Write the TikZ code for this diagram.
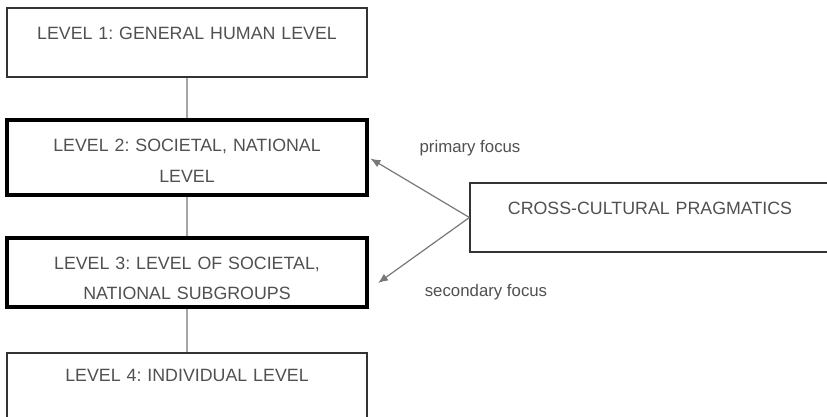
\documentclass[tikz,border=0pt]{standalone}
\usepackage{fontspec}
\setmainfont{Liberation Sans}
\usetikzlibrary{positioning, arrows.meta}
\frenchspacing

\definecolor{textgray}{RGB}{80,80,80}
\definecolor{linegray}{RGB}{165,165,165}
\definecolor{arrowgray}{RGB}{120,120,120}

\begin{document}
\begin{tikzpicture}
[
    x=1pt, y=1pt, node distance=115pt and 463pt, on grid,
    level_box/.style={rectangle, draw=black!80, line width=1.2pt, text=textgray, minimum width=360pt, text width=350pt, align=center, inner ysep=0pt, font=\fontsize{17.8}{30}\selectfont, text height=32pt, text depth=37pt},
    focus_box/.style={level_box, draw=black, line width=3.5pt, text depth=43pt},
    focus_label/.style={text=textgray, font=\fontsize{16.8}{20}\selectfont},
]
    \useasboundingbox (0,0) rectangle (827,-417) ;
    \node[level_box] (lvl1) at (187,-42.5) {LEVEL 1: GENERAL HUMAN LEVEL} ;
    \node[focus_box] (lvl2) [below = of lvl1] {LEVEL 2: SOCIETAL, NATIONAL\\LEVEL} ;
    \node[focus_box, text height=31pt, text depth=38pt] (lvl3) [below = of lvl2] {LEVEL 3: LEVEL OF SOCIETAL,\\NATIONAL SUBGROUPS} ;
    \node[level_box, text height=28pt, text depth=41pt] (lvl4) [below = of lvl3] {LEVEL 4: INDIVIDUAL LEVEL} ;
    \node[level_box, text height=31pt, text depth=38pt] (prag) at (650,-217.5) {CROSS-CULTURAL PRAGMATICS} ;
    \node[focus_label] (primary) at (470,-148) {primary focus} ;
    \node[focus_label] (secondary) at (486,-292) {secondary focus} ;
    \coordinate (sec_end) at (378,-283) ;
    \draw[color=linegray, line width=1.3pt] (lvl1) -- (lvl2) ;
    \draw[color=linegray, line width=1.3pt] (lvl2) -- (lvl3) ;
    \draw[color=linegray, line width=1.3pt] (lvl3) -- (lvl4) ;
    \draw[-{Latex[length=10pt, width=8pt]}, line width=1.2pt, color=arrowgray, shorten >=2pt] (prag.west) -- (lvl2.east) ;
    \draw[-{Latex[length=10pt, width=8pt]}, line width=1.2pt, color=arrowgray] (prag.west) -- (sec_end) ;
\end{tikzpicture}
\end{document}
